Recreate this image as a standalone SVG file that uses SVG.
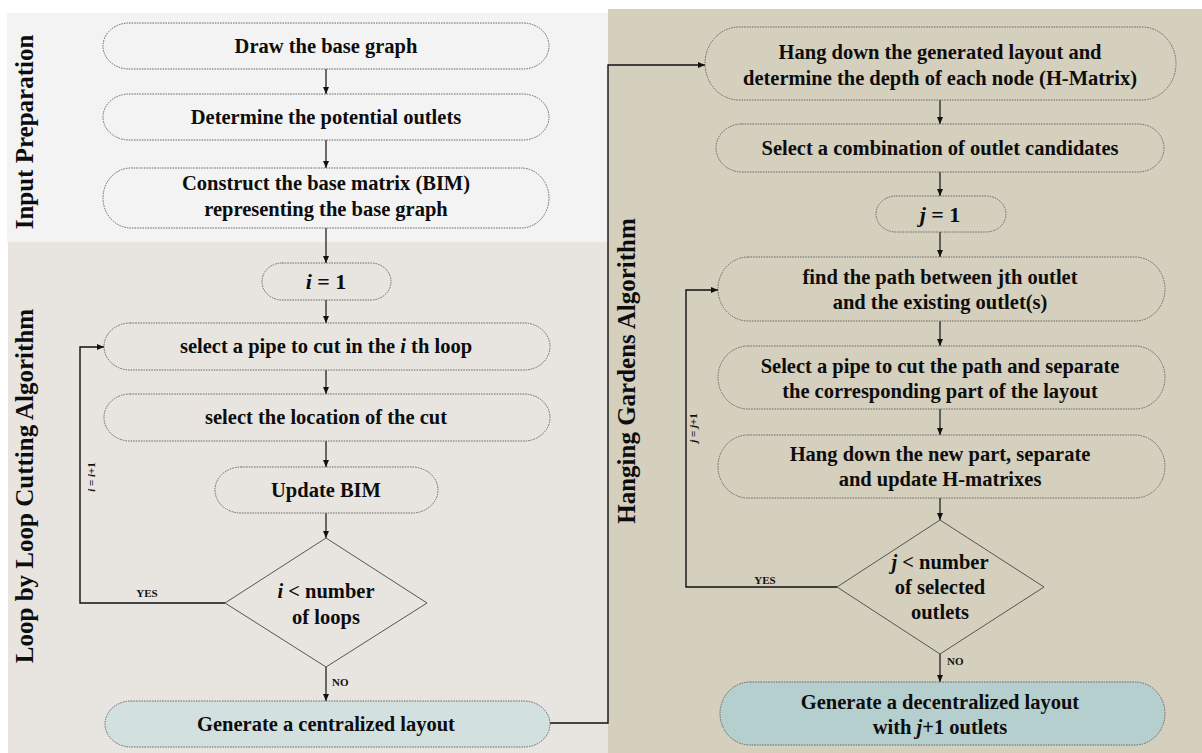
<svg xmlns="http://www.w3.org/2000/svg" width="1202" height="753" viewBox="0 0 1202 753">
  <style>
    .node { fill: none; stroke: #6a6a6a; stroke-width: 1; stroke-dasharray: 1.6 1; }
    .dec { fill: none; stroke: #555; stroke-width: 1; }
    .t { font-family: "Liberation Serif", "Times New Roman", serif; font-weight: bold; font-size: 20.5px; fill: #0d0d0d; text-anchor: middle; }
    .big { font-size: 22px; }
    .dt { font-size: 20.5px; }
    .title { font-family: "Liberation Serif", "Times New Roman", serif; font-weight: bold; font-size: 25px; fill: #0d0d0d; text-anchor: middle; }
    .lab { font-family: "Liberation Serif", "Times New Roman", serif; font-weight: bold; font-size: 11px; fill: #111; }
    .conn { fill: none; stroke: #111; stroke-width: 1.2; }
    .loop { fill: none; stroke: #111; stroke-width: 1.4; }
  </style>
  <defs>
    <marker id="arrow" markerUnits="userSpaceOnUse" markerWidth="8" markerHeight="8" refX="7" refY="4" orient="auto">
      <path d="M0,1 L7,4 L0,7 Z" fill="#111"/>
    </marker>
  </defs>

  <rect width="1202" height="753" fill="#ffffff"/>

  <!-- stage panels -->
  <g id="panels">
    <rect x="7" y="13" width="601" height="229" fill="#f3f3f3"/>
    <rect x="8" y="242" width="602" height="511" fill="#e8e5e0"/>
    <rect x="608" y="9" width="594" height="744" fill="#d5cfbe"/>
    <text class="title" transform="translate(33,132) rotate(-90)">Input Preparation</text>
    <text class="title" transform="translate(33,486) rotate(-90)">Loop by Loop Cutting Algorithm</text>
    <text class="title" transform="translate(635,371) rotate(-90)">Hanging Gardens Algorithm</text>
  </g>

  <!-- connectors -->
  <g id="connectors">
    <line class="conn" x1="326" y1="69" x2="326" y2="94" marker-end="url(#arrow)"/>
    <line class="conn" x1="326" y1="140" x2="326" y2="168" marker-end="url(#arrow)"/>
    <line class="conn" x1="326" y1="228" x2="326" y2="263" marker-end="url(#arrow)"/>
    <line class="conn" x1="326" y1="300" x2="326" y2="323" marker-end="url(#arrow)"/>
    <line class="conn" x1="326" y1="370" x2="326" y2="394" marker-end="url(#arrow)"/>
    <line class="conn" x1="326" y1="441" x2="326" y2="467" marker-end="url(#arrow)"/>
    <line class="conn" x1="326" y1="513" x2="326" y2="538" marker-end="url(#arrow)"/>
    <line class="conn" x1="326" y1="667" x2="326" y2="701" marker-end="url(#arrow)"/>
    <path class="loop" d="M225,603 H80 V347 H104" marker-end="url(#arrow)"/>
    <path class="loop" d="M550,723 H608 V65 H705" marker-end="url(#arrow)"/>

    <line class="conn" x1="940" y1="100" x2="940" y2="124" marker-end="url(#arrow)"/>
    <line class="conn" x1="940" y1="172" x2="940" y2="196" marker-end="url(#arrow)"/>
    <line class="conn" x1="940" y1="232" x2="940" y2="257" marker-end="url(#arrow)"/>
    <line class="conn" x1="940" y1="321" x2="940" y2="346" marker-end="url(#arrow)"/>
    <line class="conn" x1="940" y1="409" x2="940" y2="435" marker-end="url(#arrow)"/>
    <line class="conn" x1="940" y1="498" x2="940" y2="520" marker-end="url(#arrow)"/>
    <line class="conn" x1="940" y1="654" x2="940" y2="682" marker-end="url(#arrow)"/>
    <path class="loop" d="M837,587 H686 V290 H718" marker-end="url(#arrow)"/>

    <text class="lab" x="147" y="597" text-anchor="middle">YES</text>
    <text class="lab" x="332" y="686">NO</text>
    <text class="lab" transform="translate(95,477) rotate(-90)" text-anchor="middle"><tspan font-style="italic">i</tspan> = <tspan font-style="italic">i</tspan>+1</text>
    <text class="lab" x="765" y="584" text-anchor="middle">YES</text>
    <text class="lab" x="947" y="665">NO</text>
    <text class="lab" transform="translate(697,428) rotate(-90)" text-anchor="middle"><tspan font-style="italic">j</tspan> = <tspan font-style="italic">j</tspan>+1</text>
  </g>

  <!-- input preparation -->
  <g id="draw-base-graph">
    <rect class="node" x="103" y="23" width="446" height="46" rx="26" ry="23"/>
    <text class="t" x="326" y="53">Draw the base graph</text>
  </g>
  <g id="determine-outlets">
    <rect class="node" x="103" y="94" width="446" height="46" rx="26" ry="23"/>
    <text class="t" x="326" y="124">Determine the potential outlets</text>
  </g>
  <g id="construct-bim">
    <rect class="node" x="103" y="168" width="446" height="60" rx="28" ry="30"/>
    <text class="t" x="326" y="190">Construct the base matrix (BIM)</text>
    <text class="t" x="326" y="216">representing the base graph</text>
  </g>

  <!-- loop by loop cutting -->
  <g id="init-i">
    <rect class="node" x="262" y="263" width="129" height="37" rx="20" ry="18.5"/>
    <text class="t big" x="326" y="289"><tspan font-style="italic">i</tspan> = 1</text>
  </g>
  <g id="select-pipe">
    <rect class="node" x="104" y="323" width="446" height="47" rx="26" ry="23.5"/>
    <text class="t" x="326" y="353">select a pipe to cut in the <tspan font-style="italic">i</tspan> th loop</text>
  </g>
  <g id="select-location">
    <rect class="node" x="104" y="394" width="446" height="47" rx="26" ry="23.5"/>
    <text class="t" x="326" y="424">select the location of the cut</text>
  </g>
  <g id="update-bim">
    <rect class="node" x="215" y="467" width="223" height="46" rx="26" ry="23"/>
    <text class="t" x="326" y="497">Update BIM</text>
  </g>
  <g id="loop-check">
    <polygon class="dec" points="326,538 427,603 326,667 225,603"/>
    <text class="t dt" x="326" y="598"><tspan font-style="italic">i</tspan> &lt; number</text>
    <text class="t dt" x="326" y="624">of loops</text>
  </g>
  <g id="centralized-layout">
    <rect class="node" x="105" y="701" width="445" height="46" rx="26" ry="23" style="fill:#d2e1e0"/>
    <text class="t" x="326" y="731">Generate a centralized layout</text>
  </g>

  <!-- hanging gardens -->
  <g id="hang-down">
    <rect class="node" x="705" y="27" width="471" height="73" rx="34" ry="36.5"/>
    <text class="t" x="940" y="59">Hang down the generated layout and</text>
    <text class="t" x="940" y="85">determine the depth of each node (H-Matrix)</text>
  </g>
  <g id="select-combination">
    <rect class="node" x="716" y="124" width="448" height="48" rx="26" ry="24"/>
    <text class="t" x="940" y="155">Select a combination of outlet candidates</text>
  </g>
  <g id="init-j">
    <rect class="node" x="876" y="196" width="130" height="36" rx="20" ry="18"/>
    <text class="t big" x="940" y="222"><tspan font-style="italic">j</tspan> = 1</text>
  </g>
  <g id="find-path">
    <rect class="node" x="718" y="257" width="447" height="64" rx="30" ry="32"/>
    <text class="t" x="940" y="284">find the path between jth outlet</text>
    <text class="t" x="940" y="309">and the existing outlet(s)</text>
  </g>
  <g id="cut-path">
    <rect class="node" x="718" y="346" width="447" height="63" rx="30" ry="31.5"/>
    <text class="t" x="940" y="373">Select a pipe to cut the path and separate</text>
    <text class="t" x="940" y="398">the corresponding part of the layout</text>
  </g>
  <g id="hang-new-part">
    <rect class="node" x="718" y="435" width="447" height="63" rx="30" ry="31.5"/>
    <text class="t" x="940" y="461">Hang down the new part, separate</text>
    <text class="t" x="940" y="486">and update H-matrixes</text>
  </g>
  <g id="outlet-check">
    <polygon class="dec" points="940,520 1044,587 940,654 837,587"/>
    <text class="t dt" x="940" y="569"><tspan font-style="italic">j</tspan> &lt; number</text>
    <text class="t dt" x="940" y="594">of selected</text>
    <text class="t dt" x="940" y="619">outlets</text>
  </g>
  <g id="decentralized-layout">
    <rect class="node" x="720" y="682" width="445" height="63" rx="30" ry="31.5" style="fill:#b5cece"/>
    <text class="t" x="940" y="709">Generate a decentralized layout</text>
    <text class="t" x="940" y="734">with <tspan font-style="italic">j</tspan>+1 outlets</text>
  </g>
</svg>
